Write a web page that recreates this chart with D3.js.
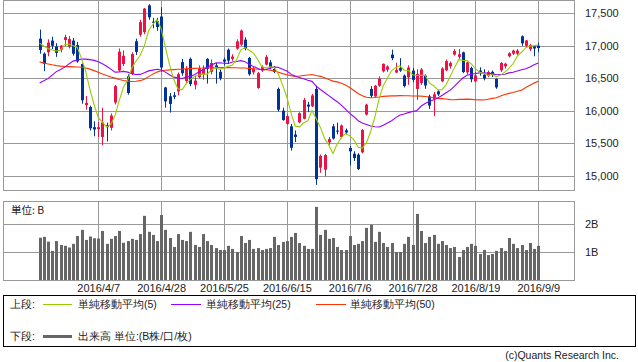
<!DOCTYPE html>
<html><head><meta charset="utf-8">
<script src="https://cdn.jsdelivr.net/npm/d3@7"></script>
<style>
body{margin:0;background:#fff;}
svg{display:block;}
text{font-family:"Liberation Sans",Arial,sans-serif;fill:#222;}
.jp{font-family:"Noto Sans CJK JP",sans-serif;}
</style></head><body>
<svg id="c" width="638" height="362"></svg>
<script>
const dates = ["3/17","3/18","3/22","3/23","3/24","3/25","3/28","3/29","3/30","3/31",
"4/1","4/4","4/5","4/6","4/7","4/8","4/11","4/12","4/13","4/14",
"4/15","4/18","4/19","4/20","4/21","4/22","4/25","4/26","4/27","4/28",
"5/2","5/6","5/9","5/10","5/11","5/12","5/13","5/16","5/17","5/18",
"5/19","5/20","5/23","5/24","5/25","5/26","5/27","5/30","5/31","6/1",
"6/2","6/3","6/6","6/7","6/8","6/9","6/10","6/13","6/14","6/15",
"6/16","6/17","6/20","6/21","6/22","6/23","6/24","6/27","6/28","6/29",
"6/30","7/1","7/4","7/5","7/6","7/7","7/8","7/11","7/12","7/13",
"7/14","7/15","7/19","7/20","7/21","7/22","7/25","7/26","7/27","7/28",
"7/29","8/1","8/2","8/3","8/4","8/5","8/8","8/9","8/10","8/12",
"8/15","8/16","8/17","8/18","8/19","8/22","8/23","8/24","8/25","8/26",
"8/29","8/30","8/31","9/1","9/2","9/5","9/6","9/7","9/8","9/9"];
const open = [17110,16880,16900,17080,16990,16940,17090,16990,17080,17010,
16720,16090,16060,15750,15720,15600,15780,15740,16130,16620,
16720,16530,16570,17070,17170,17210,17620,17370,17380,17450,
16360,16225,16240,16300,16750,16460,16800,16400,16520,16560,
16800,16600,16700,16600,16790,16940,16800,16957,17018,17095,
16814,16593,16353,16624,16711,16746,16645,16338,16004,15800,
15763,15636,15825,15880,16097,16071,16338,15128,15097,15517,
15763,15697,15600,15702,15431,15343,15328,15363,15943,16338,
16224,16388,16608,16634,16865,16590,16660,16542,16516,16620,
16338,16430,16542,16224,16184,16301,16455,16624,16685,16865,
16830,16900,16593,16660,16455,16620,16557,16542,16600,16491,
16624,16685,16839,16880,16880,17146,17000,16950,16992,17003];
const high = [17250,16900,17100,17140,17040,17010,17170,17150,17120,17060,
16730,16230,16080,15840,15830,16050,15820,15960,16400,16960,
16930,16560,16900,17110,17400,17580,17640,17430,17430,17590,
16370,16275,16290,16590,16800,16690,16820,16540,16700,16700,
16810,16790,16740,16640,16820,16960,16870,17100,17250,17130,
16830,16680,16600,16700,16860,16780,16690,16360,16050,15950,
15800,15700,15980,16200,16140,16260,16390,15330,15340,15600,
15800,15820,15790,15730,15460,15380,15350,15720,16110,16380,
16400,16530,16730,16700,16940,16740,16810,16560,16700,16660,
16640,16660,16560,16250,16290,16320,16670,16790,16760,16950,
16950,16910,16760,16680,16600,16670,16640,16620,16620,16500,
16750,16740,16900,16940,16950,17160,17090,17030,17010,17050];
const low = [16880,16610,16840,16950,16830,16900,17000,16960,16850,16740,
16110,16020,15700,15610,15600,15472,15530,15700,16100,16600,
16690,16250,16550,16860,17140,17180,17400,17270,17230,16600,
16050,15975,16180,16240,16540,16420,16380,16330,16500,16480,
16420,16560,16420,16470,16700,16720,16770,16940,17000,16930,
16540,16560,16340,16600,16700,16640,16580,15990,15850,15790,
15390,15520,15810,15870,15980,16060,14864,15050,14995,15480,
15560,15640,15580,15640,15164,15230,15090,15350,15930,16200,
16200,16370,16590,16600,16780,16580,16600,16360,16400,16440,
16170,16400,16340,16030,15920,16230,16440,16610,16650,16850,
16800,16580,16560,16440,16440,16540,16470,16520,16520,16340,
16600,16650,16820,16860,16860,17000,16980,16920,16840,16900];
const close = [16936,16725,17049,17001,16892,17003,17134,17104,16879,16759,
16164,16123,15733,15715,15750,15822,15751,15929,16381,16911,
16848,16276,16874,16907,17364,17572,17439,17353,17290,16666,
16147,16107,16216,16565,16579,16646,16412,16466,16653,16645,
16647,16736,16655,16499,16757,16772,16835,17068,17235,16956,
16563,16642,16580,16675,16831,16668,16601,16019,15859,15920,
15434,15600,15965,16169,16066,16238,14952,15309,15323,15567,
15576,15682,15776,15669,15379,15276,15107,15709,16096,16231,
16386,16498,16723,16682,16810,16627,16620,16383,16665,16477,
16569,16636,16391,16083,16255,16254,16651,16765,16735,16920,
16870,16597,16746,16486,16546,16598,16497,16597,16556,16361,
16737,16725,16887,16927,16926,17038,17082,17012,16959,16966];
const volume = [1.52,1.55,1.38,1.05,1.40,1.26,1.23,1.17,1.30,1.58,
1.80,1.44,1.56,1.50,1.49,1.76,1.30,1.48,1.58,1.76,
1.34,1.40,1.48,1.44,1.65,2.30,1.73,1.62,1.40,2.33,
1.80,1.51,1.19,1.65,1.44,1.40,1.73,1.26,1.19,1.65,
1.40,1.26,1.15,1.08,1.08,1.23,1.12,1.01,1.58,1.33,
1.44,1.12,1.15,1.08,1.12,1.15,1.55,1.26,1.37,1.40,
1.55,1.69,1.33,1.23,1.12,1.12,2.62,1.62,1.80,1.48,
1.51,1.19,1.08,1.08,1.58,1.26,1.30,1.40,1.87,1.98,
1.37,1.73,1.33,1.19,1.33,1.01,1.01,1.30,1.55,1.26,
2.37,1.76,1.33,1.55,1.62,1.30,1.40,1.26,1.15,1.19,
0.83,1.08,1.19,1.30,1.23,0.94,1.08,0.90,0.94,1.05,
1.15,1.05,1.51,1.30,1.15,1.26,1.08,1.33,1.12,1.23];
const ma5 = [17040,16997,16960,16937,16921,16934,17016,17027,17002,16976,
16808,16606,16332,16099,15897,15829,15754,15793,15927,16159,
16364,16469,16658,16763,16854,16999,17231,17327,17404,17264,
16979,16713,16485,16340,16323,16423,16484,16534,16551,16565,
16565,16629,16667,16636,16659,16684,16704,16786,16934,16973,
16931,16893,16795,16683,16658,16679,16671,16559,16396,16214,
15967,15766,15756,15818,15847,16008,15878,15747,15578,15478,
15345,15492,15585,15654,15617,15557,15442,15428,15513,15684,
15906,16184,16387,16504,16620,16668,16693,16625,16621,16554,
16543,16546,16548,16431,16387,16324,16327,16402,16532,16665,
16788,16777,16773,16724,16649,16594,16575,16545,16559,16522,
16550,16595,16653,16728,16841,16901,16972,16997,17003,17011];
const ma25 = [16430,16462,16496,16550,16604,16637,16673,16722,16765,16783,
16796,16796,16788,16776,16757,16723,16685,16642,16596,16599,
16608,16596,16573,16560,16561,16587,16615,16627,16639,16630,
16596,16555,16519,16507,16499,16519,16530,16560,16597,16633,
16666,16705,16734,16739,16733,16730,16752,16760,16773,16757,
16716,16684,16654,16629,16636,16656,16676,16668,16640,16614,
16565,16533,16513,16493,16470,16454,16382,16329,16282,16234,
16186,16140,16088,16026,15963,15911,15850,15815,15792,15768,
15756,15752,15780,15813,15849,15897,15938,15954,15974,15991,
16004,16071,16114,16145,16172,16199,16238,16278,16320,16382,
16446,16505,16547,16562,16575,16584,16584,16578,16573,16555,
16560,16564,16584,16595,16613,16631,16649,16674,16709,16738];
const ma50 = [16753,16737,16722,16708,16696,16688,16683,16680,16677,16674,
16671,16660,16642,16619,16593,16568,16545,16522,16504,16484,
16468,16458,16453,16455,16465,16488,16527,16565,16596,16616,
16624,16630,16634,16639,16642,16647,16650,16653,16656,16659,
16662,16663,16665,16665,16665,16665,16663,16662,16660,16659,
16652,16650,16640,16634,16633,16626,16615,16594,16573,16557,
16542,16531,16536,16545,16552,16560,16544,16531,16510,16483,
16458,16446,16424,16399,16360,16314,16267,16234,16210,16202,
16206,16214,16224,16227,16231,16231,16235,16233,16234,16230,
16229,16227,16222,16213,16203,16193,16189,16183,16173,16172,
16178,16178,16181,16177,16171,16170,16168,16179,16193,16202,
16228,16251,16269,16284,16302,16318,16360,16394,16427,16455];
const tickDates = ["4/7","4/28","5/25","6/15","7/6","7/28","8/19","9/9"];
const priceTicks = [15000,15500,16000,16500,17000,17500];
const volTicks = [1,2];

const svg = d3.select("#c");
svg.append("rect").attr("width",638).attr("height",362).attr("fill","#fff");
const GRID = "#999";
const L = 3.5, R = 574.5, T = 0.5, B = 190.5, VT = 201.5, VB = 280.5;

const x = d3.scalePoint().domain(dates).range([39.6, 538.3]);
const y = d3.scaleLinear().domain([14785, 17704]).range([190, 0]);
const vy = d3.scaleLinear().domain([0, 2.83]).range([280.3, 201]);
const px = d => Math.round(x(d));

// clip
svg.append("clipPath").attr("id","mc").append("rect").attr("x",L).attr("y",T).attr("width",R-L).attr("height",B-T);

// grid main
const g = svg.append("g");
g.selectAll("line.hy").data(priceTicks).join("line")
  .attr("x1",L).attr("x2",R).attr("y1",d=>Math.round(y(d))+0.5).attr("y2",d=>Math.round(y(d))+0.5)
  .attr("stroke",GRID);
g.selectAll("line.vx").data(tickDates).join("line")
  .attr("x1",d=>px(d)+0.5).attr("x2",d=>px(d)+0.5).attr("y1",T).attr("y2",B).attr("stroke",GRID);
g.append("rect").attr("x",L).attr("y",T).attr("width",R-L).attr("height",B-T)
  .attr("fill","none").attr("stroke",GRID);

// grid volume
const gv = svg.append("g");
gv.selectAll("line").data(volTicks).join("line")
  .attr("x1",L).attr("x2",R).attr("y1",d=>Math.round(vy(d))+0.5).attr("y2",d=>Math.round(vy(d))+0.5)
  .attr("stroke",GRID);
gv.selectAll("line.v").data(tickDates).join("line").attr("class","v")
  .attr("x1",d=>px(d)+0.5).attr("x2",d=>px(d)+0.5).attr("y1",VT).attr("y2",VB).attr("stroke",GRID);

// volume bars
svg.append("g").selectAll("rect").data(dates).join("rect")
  .attr("x",d=>px(d)-1).attr("width",3)
  .attr("y",(d,i)=>vy(volume[i])).attr("height",(d,i)=>vy(0)-vy(volume[i]))
  .attr("fill","#666");
svg.append("rect").attr("x",L).attr("y",VT).attr("width",R-L).attr("height",VB-VT)
  .attr("fill","none").attr("stroke",GRID);

// candles
const RED = "#ee1144", BLUE = "#003399";
const cg = svg.append("g").attr("clip-path","url(#mc)");
const col = i => close[i] >= open[i] ? RED : BLUE;
cg.selectAll("line").data(dates).join("line")
  .attr("x1",d=>px(d)+0.5).attr("x2",d=>px(d)+0.5)
  .attr("y1",(d,i)=>y(high[i])).attr("y2",(d,i)=>y(low[i]))
  .attr("stroke",(d,i)=>col(i)).attr("stroke-width",1);
cg.selectAll("rect").data(dates).join("rect")
  .attr("x",d=>px(d)-1).attr("width",3)
  .attr("y",(d,i)=>y(Math.max(open[i],close[i])))
  .attr("height",(d,i)=>Math.max(1, Math.abs(y(open[i])-y(close[i]))))
  .attr("fill",(d,i)=>col(i));

// moving averages
const line = d3.line().x((d,i)=>x(dates[i])).y(d=>y(d));
[[ma50,"#ff3300"],[ma25,"#9900ff"],[ma5,"#99cc00"]].forEach(([arr,c])=>{
  cg.append("path").datum(arr).attr("d",line).attr("fill","none").attr("stroke",c).attr("stroke-width",1.1);
});

// axes labels
const ya = svg.append("g").attr("transform","translate(582,0)")
  .call(d3.axisRight(y).tickValues(priceTicks).tickFormat(d3.format(",")).tickSize(0).tickPadding(3));
ya.select(".domain").remove();
ya.selectAll("text").attr("font-size",11).attr("fill","#222").attr("font-family","Liberation Sans, Arial, sans-serif");

const va = svg.append("g").attr("transform","translate(582,0)")
  .call(d3.axisRight(vy).tickValues(volTicks).tickFormat(d=>d+"B").tickSize(0).tickPadding(3));
va.select(".domain").remove();
va.selectAll("text").attr("font-size",11).attr("fill","#222").attr("font-family","Liberation Sans, Arial, sans-serif");

const xa = svg.append("g").attr("transform","translate(0,281)")
  .call(d3.axisBottom(x).tickValues(tickDates).tickFormat(d=>"2016/"+d).tickSize(0).tickPadding(3));
xa.select(".domain").remove();
xa.selectAll("text").attr("font-size",11).attr("fill","#222").attr("font-family","Liberation Sans, Arial, sans-serif");

svg.append("text").attr("class","jp").attr("x",11).attr("y",214).attr("font-size",10.5).text("単位: B");

// legend
svg.append("rect").attr("x",3.5).attr("y",295.5).attr("width",632).attr("height",51)
  .attr("fill","none").attr("stroke","#000");
const r1 = 304, r2 = 336;
const lg = svg.append("g").attr("class","jp").attr("font-size",10.5);
lg.append("text").attr("x",10).attr("y",r1).attr("dy","0.35em").text("上段:");
const items = [["#99cc00",43,72,78,"単純移動平均(5)"],["#9900ff",171,201,206,"単純移動平均(25)"],["#ff3300",316,346,350,"単純移動平均(50)"]];
items.forEach(([c,a,b,t,s])=>{
  lg.append("line").attr("x1",a).attr("x2",b).attr("y1",r1+0.5).attr("y2",r1+0.5).attr("stroke",c);
  lg.append("text").attr("x",t).attr("y",r1).attr("dy","0.35em").text(s);
});
lg.append("text").attr("x",10).attr("y",r2).attr("dy","0.35em").text("下段:");
lg.append("line").attr("x1",43).attr("x2",72).attr("y1",r2+0.5).attr("y2",r2+0.5).attr("stroke","#666").attr("stroke-width",3);
lg.append("text").attr("x",78).attr("y",r2).attr("dy","0.35em").text("出来高 単位:(B株/口/枚)");

svg.append("text").attr("x",619).attr("y",359).attr("text-anchor","end").attr("font-size",10.5).attr("fill","#333").text("(c)Quants Research Inc.");
</script>
</body></html>
